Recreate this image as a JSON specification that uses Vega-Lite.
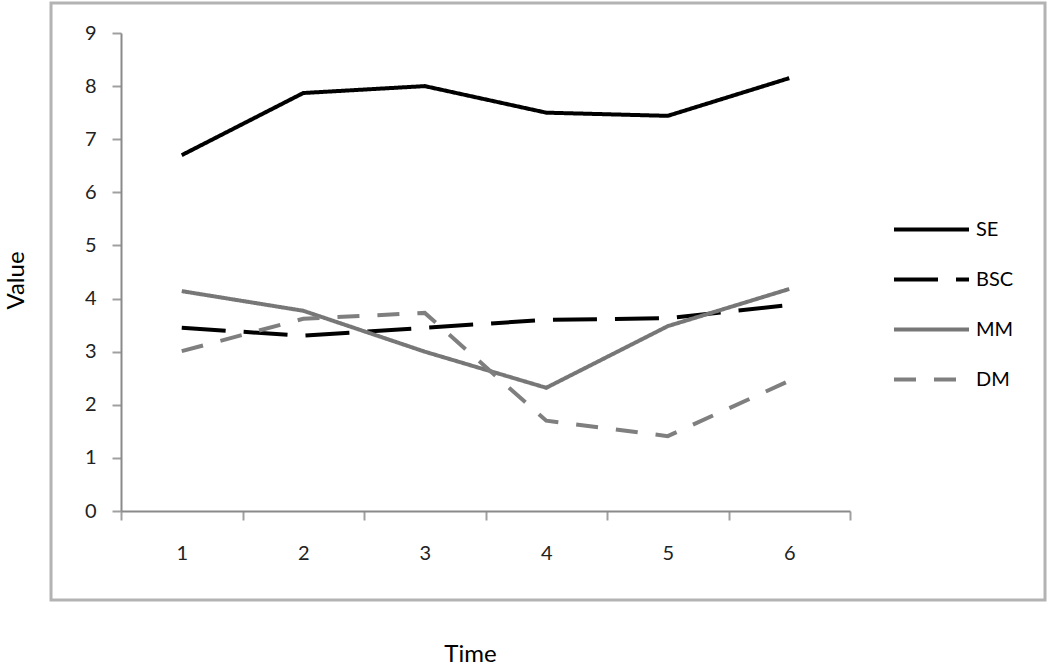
{
  "$schema": "https://vega.github.io/schema/vega-lite/v6.json",
  "width": 729,
  "height": 478,
  "autosize": {"type": "none"},
  "padding": {"left": 121, "top": 33, "right": 200, "bottom": 154},
  "background": "white",
  "config": {"view": {"stroke": null}, "font": "Lato"},
  "layer": [
    {
      "data": {"values": [{}]},
      "mark": {"type": "rect", "fill": null, "stroke": "#b3b3b3", "strokeWidth": 3, "clip": false},
      "encoding": {
        "x": {"datum": -0.076, "type": "quantitative", "scale": {"domain": [0.5, 6.5], "nice": false, "zero": false}},
        "x2": {"datum": 8.105},
        "y": {"datum": 9.565, "type": "quantitative", "scale": {"domain": [0, 9], "nice": false}},
        "y2": {"datum": -1.676}
      }
    },
    {
      "data": {
        "values": [
          {"time": 1, "series": "SE", "value": 6.7},
          {"time": 2, "series": "SE", "value": 7.87},
          {"time": 3, "series": "SE", "value": 8.0},
          {"time": 4, "series": "SE", "value": 7.5},
          {"time": 5, "series": "SE", "value": 7.44},
          {"time": 6, "series": "SE", "value": 8.15},
          {"time": 1, "series": "BSC", "value": 3.45},
          {"time": 2, "series": "BSC", "value": 3.3},
          {"time": 3, "series": "BSC", "value": 3.45},
          {"time": 4, "series": "BSC", "value": 3.6},
          {"time": 5, "series": "BSC", "value": 3.63},
          {"time": 6, "series": "BSC", "value": 3.88},
          {"time": 1, "series": "MM", "value": 4.14},
          {"time": 2, "series": "MM", "value": 3.77},
          {"time": 3, "series": "MM", "value": 3.0},
          {"time": 4, "series": "MM", "value": 2.32},
          {"time": 5, "series": "MM", "value": 3.48},
          {"time": 6, "series": "MM", "value": 4.18},
          {"time": 1, "series": "DM", "value": 3.01},
          {"time": 2, "series": "DM", "value": 3.62},
          {"time": 3, "series": "DM", "value": 3.73},
          {"time": 4, "series": "DM", "value": 1.7},
          {"time": 5, "series": "DM", "value": 1.41},
          {"time": 6, "series": "DM", "value": 2.45}
        ]
      },
      "mark": {"type": "line", "clip": false},
      "encoding": {
        "x": {
          "field": "time", "type": "quantitative",
          "scale": {"domain": [0.5, 6.5], "nice": false, "zero": false},
          "axis": {
            "values": [0.5, 1, 1.5, 2, 2.5, 3, 3.5, 4, 4.5, 5, 5.5, 6, 6.5],
            "labelExpr": "datum.value % 1 == 0 ? '' + datum.value : ''",
            "tickOpacity": {"condition": {"test": "datum.value % 1 == 0", "value": 0}, "value": 1},
            "labelOverlap": false,
            "labelFlush": false,
            "grid": false,
            "domainColor": "#8a8a8a",
            "domainWidth": 2,
            "tickColor": "#a0a0a0",
            "tickWidth": 2,
            "tickSize": 9,
            "labelFontSize": 20,
            "labelColor": "#222",
            "labelPadding": 23,
            "title": "Time",
            "titleFontSize": 24,
            "titleFontWeight": "normal",
            "titleColor": "#000",
            "titlePadding": 79,
            "titleX": 349
          }
        },
        "y": {
          "field": "value", "type": "quantitative",
          "scale": {"domain": [0, 9], "nice": false},
          "axis": {
            "values": [0, 1, 2, 3, 4, 5, 6, 7, 8, 9],
            "format": "d",
            "grid": false,
            "domainColor": "#8a8a8a",
            "domainWidth": 2,
            "tickColor": "#a0a0a0",
            "tickWidth": 2,
            "tickSize": 9,
            "labelFontSize": 20,
            "labelColor": "#222",
            "labelPadding": 16,
            "title": "Value",
            "titleFontSize": 24,
            "titleFontWeight": "normal",
            "titleColor": "#000",
            "titlePadding": 56,
            "titleY": 247
          }
        },
        "color": {
          "field": "series", "type": "nominal",
          "scale": {"domain": ["SE", "BSC", "MM", "DM"], "range": ["#000000", "#000000", "#777777", "#7f7f7f"]},
          "legend": {
            "orient": "none",
            "legendX": 771,
            "legendY": 157,
            "title": null,
            "symbolType": "stroke",
            "symbolSize": 5625,
            "labelFontSize": 20,
            "labelColor": "#000",
            "labelOffset": 5,
            "rowPadding": -26,
            "padding": 0
          }
        },
        "strokeDash": {
          "field": "series", "type": "nominal",
          "scale": {"domain": ["SE", "BSC", "MM", "DM"], "range": [[1, 0], [44, 18], [1, 0], [22, 18]]}
        },
        "strokeWidth": {
          "field": "series", "type": "ordinal",
          "scale": {"domain": ["SE", "BSC", "MM", "DM"], "range": [4, 4, 3, 3]}
        }
      }
    }
  ]
}
